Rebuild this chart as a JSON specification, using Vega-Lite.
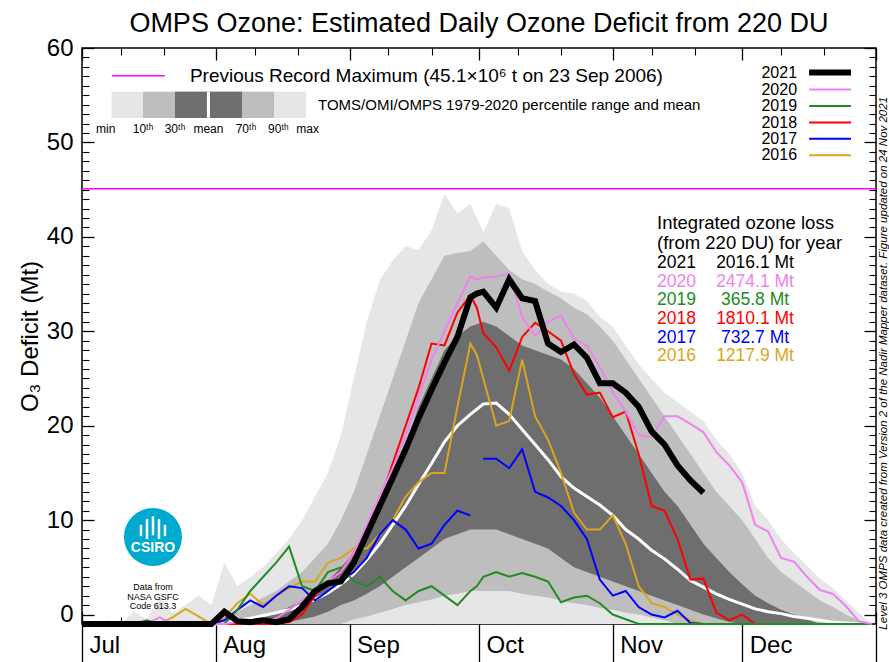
{
"$schema": "https://vega.github.io/schema/vega-lite/v6.json",
"width": 794, "height": 576,
"autosize": {"type": "none"},
"padding": {"left": 82, "top": 48, "right": 13, "bottom": 38},
"background": "white",
"title": {"text": "OMPS Ozone: Estimated Daily Ozone Deficit from 220 DU", "fontSize": 27, "fontWeight": "normal", "font": "Liberation Sans", "anchor": "middle", "offset": -2, "color": "black"},
"config": {"view": {"stroke": "black", "strokeWidth": 1.5}, "font": "Liberation Sans", "axis": {"domain": false, "grid": false, "tickColor": "black", "labelColor": "black", "labelFont": "Liberation Sans", "titleFont": "Liberation Sans", "titleColor": "black"}},
"datasets": {
"one": [{}],
"clim": [
{"d":0,"min":-1,"p10":-1,"p30":-1,"mean":-1,"p70":-1,"p90":-1,"max":-1},
{"d":3,"min":-1,"p10":-1,"p30":-1,"mean":-1,"p70":-1,"p90":-1,"max":-1},
{"d":6,"min":-1,"p10":-1,"p30":-1,"mean":-1,"p70":-1,"p90":-1,"max":-0.6},
{"d":9,"min":-1,"p10":-1,"p30":-1,"mean":-1,"p70":-1,"p90":-1,"max":-1},
{"d":12,"min":-1,"p10":-1,"p30":-1,"mean":-1,"p70":-1,"p90":-1,"max":0.3},
{"d":15,"min":-1,"p10":-1,"p30":-1,"mean":-1,"p70":-1,"p90":-1,"max":-0.5},
{"d":18,"min":-1,"p10":-1,"p30":-1,"mean":-1,"p70":-1,"p90":-1,"max":1.8},
{"d":21,"min":-1,"p10":-1,"p30":-1,"mean":-1,"p70":-1,"p90":-1,"max":0.2},
{"d":24,"min":-1,"p10":-1,"p30":-1,"mean":-1,"p70":-1,"p90":-1,"max":1.0},
{"d":27,"min":-1,"p10":-1,"p30":-1,"mean":-1,"p70":-1,"p90":-1,"max":2.0},
{"d":30,"min":-1,"p10":-1,"p30":-1,"mean":-1,"p70":-1,"p90":-0.8,"max":1.0},
{"d":33,"min":-1,"p10":-1,"p30":-1,"mean":-1,"p70":-1,"p90":-0.5,"max":5.5},
{"d":36,"min":-1,"p10":-1,"p30":-1,"mean":-0.6,"p70":-1,"p90":0.3,"max":3.0},
{"d":39,"min":-1,"p10":-1,"p30":-1,"mean":-0.4,"p70":-0.6,"p90":1.0,"max":4.0},
{"d":42,"min":-1,"p10":-1,"p30":-1,"mean":-0.1,"p70":-0.3,"p90":1.8,"max":5.0},
{"d":45,"min":-1,"p10":-1,"p30":-1,"mean":0.2,"p70":0.2,"p90":2.5,"max":6.5},
{"d":48,"min":-1,"p10":-1,"p30":-0.8,"mean":0.5,"p70":0.8,"p90":3.5,"max":8},
{"d":51,"min":-1,"p10":-1,"p30":-0.5,"mean":1.0,"p70":1.5,"p90":4.5,"max":10},
{"d":54,"min":-1,"p10":-1,"p30":-0.2,"mean":1.6,"p70":2.5,"p90":6,"max":12.5},
{"d":57,"min":-1,"p10":-1,"p30":0.3,"mean":2.3,"p70":3.5,"p90":7.5,"max":15},
{"d":60,"min":-1,"p10":-1,"p30":1,"mean":3.2,"p70":5,"p90":10,"max":19},
{"d":63,"min":-1,"p10":-0.5,"p30":1.5,"mean":4.3,"p70":6.5,"p90":13,"max":25},
{"d":66,"min":-1,"p10":-0.2,"p30":2.2,"mean":5.8,"p70":8.5,"p90":17,"max":31},
{"d":69,"min":-1,"p10":0.2,"p30":3,"mean":7.5,"p70":11,"p90":21,"max":35.4},
{"d":72,"min":-1,"p10":0.6,"p30":4,"mean":9.5,"p70":14,"p90":25,"max":37.5},
{"d":75,"min":-1,"p10":1,"p30":5,"mean":11.5,"p70":18,"p90":29,"max":39},
{"d":78,"min":-1,"p10":1.3,"p30":6,"mean":13.8,"p70":22,"p90":33,"max":38.6},
{"d":81,"min":-1,"p10":1.6,"p30":7,"mean":16,"p70":25,"p90":35.5,"max":40.7},
{"d":84,"min":-1,"p10":2,"p30":8,"mean":18.3,"p70":28,"p90":38,"max":44.5},
{"d":87,"min":-1,"p10":2.2,"p30":8.5,"mean":20,"p70":29.5,"p90":38.3,"max":42.5},
{"d":90,"min":-1,"p10":2.5,"p30":9,"mean":21.2,"p70":30.5,"p90":38.5,"max":43.5},
{"d":93,"min":-1,"p10":2.5,"p30":9,"mean":22.3,"p70":31,"p90":39.5,"max":40.5},
{"d":96,"min":-1,"p10":2.5,"p30":9,"mean":22.4,"p70":30.5,"p90":38,"max":43.5},
{"d":99,"min":-1,"p10":2.5,"p30":8.5,"mean":21.2,"p70":29.5,"p90":36.5,"max":43},
{"d":102,"min":-1,"p10":2.2,"p30":8,"mean":19.6,"p70":28.5,"p90":35.5,"max":38.5},
{"d":105,"min":-1,"p10":2,"p30":7.5,"mean":18,"p70":28,"p90":35,"max":36.5},
{"d":108,"min":-1,"p10":1.8,"p30":7,"mean":16.4,"p70":27.5,"p90":34.2,"max":35},
{"d":111,"min":-1,"p10":1.5,"p30":6,"mean":14.6,"p70":27,"p90":33.5,"max":34.2},
{"d":114,"min":-1,"p10":1.2,"p30":5,"mean":13.4,"p70":26,"p90":32.5,"max":34},
{"d":117,"min":-1,"p10":1,"p30":4.5,"mean":12.5,"p70":24.5,"p90":31.8,"max":33.2},
{"d":120,"min":-1,"p10":0.7,"p30":4,"mean":11.6,"p70":23,"p90":30.5,"max":31.5},
{"d":123,"min":-1,"p10":0.5,"p30":3.5,"mean":10.5,"p70":21,"p90":29,"max":30.5},
{"d":126,"min":-1,"p10":0.2,"p30":3,"mean":9,"p70":19,"p90":27,"max":28.5},
{"d":129,"min":-1,"p10":0,"p30":2.5,"mean":8,"p70":17,"p90":25,"max":26.5},
{"d":132,"min":-1,"p10":-0.3,"p30":2,"mean":6.8,"p70":15,"p90":23,"max":25},
{"d":135,"min":-1,"p10":-0.6,"p30":1.5,"mean":5.9,"p70":13,"p90":21,"max":23.5},
{"d":138,"min":-1,"p10":-1,"p30":1,"mean":4.8,"p70":11.5,"p90":19,"max":22.5},
{"d":141,"min":-1,"p10":-1,"p30":0.5,"mean":3.6,"p70":9.5,"p90":17,"max":21.5},
{"d":144,"min":-1,"p10":-1,"p30":0,"mean":2.9,"p70":7.5,"p90":15,"max":20.5},
{"d":147,"min":-1,"p10":-1,"p30":-0.4,"mean":2.2,"p70":6,"p90":13,"max":18.5},
{"d":150,"min":-1,"p10":-1,"p30":-0.8,"mean":1.6,"p70":4.5,"p90":11.5,"max":17},
{"d":153,"min":-1,"p10":-1,"p30":-1,"mean":1.1,"p70":3.2,"p90":10,"max":15},
{"d":156,"min":-1,"p10":-1,"p30":-1,"mean":0.6,"p70":2,"p90":8,"max":11.5},
{"d":159,"min":-1,"p10":-1,"p30":-1,"mean":0.3,"p70":1.2,"p90":6,"max":10},
{"d":162,"min":-1,"p10":-1,"p30":-1,"mean":0.1,"p70":0.5,"p90":4.5,"max":8},
{"d":165,"min":-1,"p10":-1,"p30":-1,"mean":-0.2,"p70":0,"p90":3.5,"max":6.5},
{"d":168,"min":-1,"p10":-1,"p30":-1,"mean":-0.4,"p70":-0.5,"p90":2.5,"max":5.2},
{"d":171,"min":-1,"p10":-1,"p30":-1,"mean":-0.6,"p70":-1,"p90":1.5,"max":3.8},
{"d":174,"min":-1,"p10":-1,"p30":-1,"mean":-0.8,"p70":-1,"p90":0.8,"max":2.8},
{"d":177,"min":-1,"p10":-1,"p30":-1,"mean":-0.9,"p70":-1,"p90":0,"max":1.5},
{"d":180,"min":-1,"p10":-1,"p30":-1,"mean":-1,"p70":-1,"p90":-0.6,"max":0.2},
{"d":183,"min":-1,"p10":-1,"p30":-1,"mean":-1,"p70":-1,"p90":-1,"max":-1}
],
"yrs": [
{"d":0,"y2016":-1,"y2017":-1,"y2018":-1,"y2019":-1,"y2020":-1,"y2021":-1},
{"d":3,"y2016":-1,"y2017":-1,"y2018":-1,"y2019":-1,"y2020":-1,"y2021":-1},
{"d":6,"y2016":-1,"y2017":-1,"y2018":-1,"y2019":-1,"y2020":-1,"y2021":-1},
{"d":9,"y2016":-1,"y2017":-1,"y2018":-1,"y2019":-1,"y2020":-1,"y2021":-1},
{"d":12,"y2016":-1,"y2017":-1,"y2018":-1,"y2019":-1,"y2020":-1,"y2021":-1},
{"d":15,"y2016":-1,"y2017":-1,"y2018":-1,"y2019":-0.6,"y2020":-1,"y2021":-1},
{"d":18,"y2016":-1,"y2017":-1,"y2018":-1,"y2019":-1,"y2020":-0.3,"y2021":-1},
{"d":21,"y2016":-0.3,"y2017":-1,"y2018":-1,"y2019":-1,"y2020":-1,"y2021":-1},
{"d":24,"y2016":0.6,"y2017":-1,"y2018":-1,"y2019":-1,"y2020":-1,"y2021":-1},
{"d":27,"y2016":-0.2,"y2017":-1,"y2018":-1,"y2019":-1,"y2020":-1,"y2021":-1},
{"d":30,"y2016":-1,"y2017":-1,"y2018":-1,"y2019":-1,"y2020":-1,"y2021":-1},
{"d":33,"y2016":-0.3,"y2017":-0.6,"y2018":-1,"y2019":-1,"y2020":-1,"y2021":0.3},
{"d":36,"y2016":1.2,"y2017":0.5,"y2018":-1,"y2019":0.5,"y2020":-0.8,"y2021":-0.7},
{"d":39,"y2016":2.2,"y2017":1.5,"y2018":-1,"y2019":2.5,"y2020":-0.6,"y2021":-0.8},
{"d":42,"y2016":1.0,"y2017":0.8,"y2018":-1,"y2019":4.0,"y2020":-0.8,"y2021":-0.6},
{"d":45,"y2016":2.0,"y2017":2.0,"y2018":-1,"y2019":5.5,"y2020":-0.4,"y2021":-0.8},
{"d":48,"y2016":2.8,"y2017":3.0,"y2018":-0.8,"y2019":7.2,"y2020":0.5,"y2021":-0.5},
{"d":51,"y2016":3.5,"y2017":2.8,"y2018":0.0,"y2019":3.0,"y2020":1.5,"y2021":0.8},
{"d":54,"y2016":3.5,"y2017":1.5,"y2018":2.0,"y2019":2.5,"y2020":2.5,"y2021":2.5},
{"d":57,"y2016":5.5,"y2017":2.5,"y2018":3.5,"y2019":4.5,"y2020":3.5,"y2021":3.3},
{"d":60,"y2016":6.0,"y2017":3.5,"y2018":4.5,"y2019":5.0,"y2020":4.5,"y2021":3.5},
{"d":63,"y2016":7.0,"y2017":4.5,"y2018":6.5,"y2019":3.5,"y2020":6.5,"y2021":5.5},
{"d":66,"y2016":7.0,"y2017":6.0,"y2018":9.0,"y2019":3.0,"y2020":9.5,"y2021":8.5},
{"d":69,"y2016":8.5,"y2017":8.5,"y2018":12.0,"y2019":4.0,"y2020":12.5,"y2021":11.5},
{"d":72,"y2016":10.0,"y2017":10.0,"y2018":16.0,"y2019":2.5,"y2020":15.5,"y2021":14.5},
{"d":75,"y2016":12.5,"y2017":9.0,"y2018":20.0,"y2019":1.5,"y2020":19.0,"y2021":17.5},
{"d":78,"y2016":14.0,"y2017":7.0,"y2018":24.0,"y2019":2.5,"y2020":23.0,"y2021":20.8},
{"d":81,"y2016":15.0,"y2017":7.5,"y2018":28.7,"y2019":3.0,"y2020":27.0,"y2021":23.8},
{"d":84,"y2016":15.0,"y2017":9.5,"y2018":28.5,"y2019":2.0,"y2020":30.0,"y2021":26.7},
{"d":87,"y2016":22.0,"y2017":11.0,"y2018":32.0,"y2019":1.0,"y2020":33.0,"y2021":29.4},
{"d":90,"y2016":28.7,"y2017":10.5,"y2018":33.8,"y2019":2.5,"y2020":35.8,"y2021":33.6},
{"d":91.5,"y2016":27.5,"y2017":null,"y2018":32.5,"y2019":3.0,"y2020":35.5,"y2021":34.0},
{"d":93,"y2016":25.0,"y2017":16.5,"y2018":29.8,"y2019":4.0,"y2020":35.7,"y2021":34.2},
{"d":96,"y2016":20.0,"y2017":16.5,"y2018":28.3,"y2019":4.5,"y2020":35.8,"y2021":32.5},
{"d":99,"y2016":20.5,"y2017":15.5,"y2018":25.8,"y2019":4.0,"y2020":36.1,"y2021":35.5},
{"d":102,"y2016":27.0,"y2017":17.5,"y2018":29.4,"y2019":4.4,"y2020":31.5,"y2021":33.5},
{"d":105,"y2016":21.0,"y2017":13.0,"y2018":30.9,"y2019":4.0,"y2020":29.5,"y2021":33.2},
{"d":108,"y2016":18.5,"y2017":12.4,"y2018":30.0,"y2019":3.5,"y2020":31.0,"y2021":28.7},
{"d":111,"y2016":15.0,"y2017":11.5,"y2018":29.0,"y2019":1.3,"y2020":31.7,"y2021":27.8},
{"d":114,"y2016":10.8,"y2017":10.0,"y2018":25.5,"y2019":1.8,"y2020":29.2,"y2021":28.6},
{"d":117,"y2016":9.0,"y2017":8.0,"y2018":23.3,"y2019":2.0,"y2020":28.5,"y2021":27.2},
{"d":120,"y2016":9.0,"y2017":3.7,"y2018":23.5,"y2019":1.2,"y2020":26.2,"y2021":24.5},
{"d":123,"y2016":10.5,"y2017":2.0,"y2018":20.9,"y2019":0.0,"y2020":23.5,"y2021":24.5},
{"d":126,"y2016":7.5,"y2017":2.5,"y2018":21.5,"y2019":-0.5,"y2020":21.5,"y2021":23.5},
{"d":129,"y2016":3.0,"y2017":0.8,"y2018":17.0,"y2019":-1,"y2020":19.0,"y2021":22.0},
{"d":132,"y2016":1.2,"y2017":0.0,"y2018":11.5,"y2019":-1,"y2020":18.8,"y2021":19.4},
{"d":135,"y2016":0.8,"y2017":-0.3,"y2018":11.0,"y2019":-1,"y2020":21.0,"y2021":18.0},
{"d":138,"y2016":0.0,"y2017":0.4,"y2018":8.0,"y2019":-1,"y2020":21.0,"y2021":15.8},
{"d":141,"y2016":-0.6,"y2017":-0.9,"y2018":3.7,"y2019":-1,"y2020":20.2,"y2021":14.2},
{"d":144,"y2016":-1,"y2017":-1,"y2018":3.8,"y2019":-1,"y2020":19.3,"y2021":12.9},
{"d":147,"y2016":-1,"y2017":-1,"y2018":0.2,"y2019":-1,"y2020":17.2,"y2021":null},
{"d":150,"y2016":-1,"y2017":-1,"y2018":-0.6,"y2019":-1,"y2020":15.8,"y2021":null},
{"d":153,"y2016":-1,"y2017":-1,"y2018":0.0,"y2019":-1,"y2020":14.0,"y2021":null},
{"d":156,"y2016":-1,"y2017":-1,"y2018":-1,"y2019":-1,"y2020":9.5,"y2021":null},
{"d":159,"y2016":-1,"y2017":-1,"y2018":-1,"y2019":-1,"y2020":8.8,"y2021":null},
{"d":162,"y2016":-1,"y2017":-1,"y2018":-1,"y2019":-1,"y2020":6.0,"y2021":null},
{"d":165,"y2016":-1,"y2017":-1,"y2018":-1,"y2019":-1,"y2020":5.6,"y2021":null},
{"d":168,"y2016":-1,"y2017":-1,"y2018":-1,"y2019":-1,"y2020":4.0,"y2021":null},
{"d":171,"y2016":-1,"y2017":-1,"y2018":-1,"y2019":-1,"y2020":2.6,"y2021":null},
{"d":174,"y2016":-1,"y2017":-1,"y2018":-1,"y2019":-1,"y2020":2.2,"y2021":null},
{"d":177,"y2016":-1,"y2017":-1,"y2018":-1,"y2019":-1,"y2020":0.9,"y2021":null},
{"d":180,"y2016":-1,"y2017":-1,"y2018":-1,"y2019":-1,"y2020":-0.7,"y2021":null},
{"d":183,"y2016":-1,"y2017":-1,"y2018":-1,"y2019":-1,"y2020":-1,"y2021":null}
]
},
"data": {"name": "one"},
"layer": [
{
"layer": [
{"data": {"name": "clim"}, "mark": {"type": "area", "color": "#e6e6e6"},
 "encoding": {
  "x": {"field": "d", "type": "quantitative", "scale": {"domain": [0, 184], "nice": false, "zero": false},
   "axis": {"orient": "bottom", "values": [0, 31, 62, 92, 123, 153, 184], "tickSize": 38, "tickWidth": 1.3, "labelExpr": "datum.value==0?'Jul':datum.value==31?'Aug':datum.value==62?'Sep':datum.value==92?'Oct':datum.value==123?'Nov':datum.value==153?'Dec':''", "labelAlign": "left", "labelOffset": 7, "labelBaseline": "middle", "labelPadding": -17, "labelFontSize": 24, "labelFlush": false, "labelOverlap": false, "title": null}},
  "y": {"field": "min", "type": "quantitative", "scale": {"domain": [-1, 60], "nice": false, "zero": false},
   "axis": {"orient": "left", "values": [0, 10, 20, 30, 40, 50, 60], "tickSize": -12, "tickWidth": 1.3, "labelPadding": 21, "labelFontSize": 24, "labelFlush": false, "labelOverlap": false, "title": "O₃ Deficit (Mt)", "titleFontSize": 24, "titleFontWeight": "normal", "titlePadding": 4}},
  "y2": {"field": "max"}}},
{"data": {"name": "clim"}, "mark": {"type": "area", "color": "#bebebe"},
 "encoding": {"x": {"field": "d", "type": "quantitative"}, "y": {"field": "p10", "type": "quantitative"}, "y2": {"field": "p90"}}},
{"data": {"name": "clim"}, "mark": {"type": "area", "color": "#6e6e6e"},
 "encoding": {"x": {"field": "d", "type": "quantitative"}, "y": {"field": "p30", "type": "quantitative"}, "y2": {"field": "p70"}}},
{"data": {"name": "clim"}, "mark": {"type": "line", "color": "white", "strokeWidth": 3},
 "encoding": {"x": {"field": "d", "type": "quantitative"}, "y": {"field": "mean", "type": "quantitative"}}},
{"mark": {"type": "rule", "color": "#ff00ff", "strokeWidth": 1.5}, "encoding": {"y": {"datum": 45.1, "type": "quantitative"}}},
{"data": {"name": "yrs"}, "mark": {"type": "line", "color": "#daa520", "strokeWidth": 2}, "encoding": {"x": {"field": "d", "type": "quantitative"}, "y": {"field": "y2016", "type": "quantitative"}}},
{"data": {"name": "yrs"}, "mark": {"type": "line", "color": "#0000ff", "strokeWidth": 2, "invalid": "break-paths-filter-domains"}, "encoding": {"x": {"field": "d", "type": "quantitative"}, "y": {"field": "y2017", "type": "quantitative"}}},
{"data": {"name": "yrs"}, "mark": {"type": "line", "color": "#ff0000", "strokeWidth": 2}, "encoding": {"x": {"field": "d", "type": "quantitative"}, "y": {"field": "y2018", "type": "quantitative"}}},
{"data": {"name": "yrs"}, "mark": {"type": "line", "color": "#228b22", "strokeWidth": 2}, "encoding": {"x": {"field": "d", "type": "quantitative"}, "y": {"field": "y2019", "type": "quantitative"}}},
{"data": {"name": "yrs"}, "mark": {"type": "line", "color": "#ee82ee", "strokeWidth": 2}, "encoding": {"x": {"field": "d", "type": "quantitative"}, "y": {"field": "y2020", "type": "quantitative"}}},
{"data": {"name": "yrs"}, "mark": {"type": "line", "color": "black", "strokeWidth": 6}, "encoding": {"x": {"field": "d", "type": "quantitative"}, "y": {"field": "y2021", "type": "quantitative"}}},

{"mark": {"type": "rule", "color": "#ff00ff", "strokeWidth": 1.5}, "encoding": {"x": {"datum": 6.95, "type": "quantitative"}, "x2": {"datum": 19.2}, "y": {"datum": 57.05, "type": "quantitative"}}},
{"mark": {"type": "text", "text": "Previous Record Maximum (45.1×10⁶  t on 23 Sep 2006)", "align": "left", "baseline": "middle", "fontSize": 19, "color": "black"}, "encoding": {"x": {"datum": 25.0, "type": "quantitative"}, "y": {"datum": 57.05, "type": "quantitative"}}},
{"mark": {"type": "rect", "color": "#e6e6e6"}, "encoding": {"x": {"datum": 6.86, "type": "quantitative"}, "x2": {"datum": 51.9}, "y": {"datum": 52.6, "type": "quantitative"}, "y2": {"datum": 55.36}}},
{"mark": {"type": "rect", "color": "#bebebe"}, "encoding": {"x": {"datum": 14.14, "type": "quantitative"}, "x2": {"datum": 44.5}, "y": {"datum": 52.6, "type": "quantitative"}, "y2": {"datum": 55.36}}},
{"mark": {"type": "rect", "color": "#6e6e6e"}, "encoding": {"x": {"datum": 21.55, "type": "quantitative"}, "x2": {"datum": 37.08}, "y": {"datum": 52.6, "type": "quantitative"}, "y2": {"datum": 55.36}}},
{"mark": {"type": "rule", "color": "white", "strokeWidth": 3}, "encoding": {"x": {"datum": 29.3, "type": "quantitative"}, "y": {"datum": 52.6, "type": "quantitative"}, "y2": {"datum": 55.36}}},
{"mark": {"type": "text", "text": "min", "align": "center", "baseline": "middle", "fontSize": 12, "color": "black"}, "encoding": {"x": {"datum": 5.5, "type": "quantitative"}, "y": {"datum": 51.4, "type": "quantitative"}}},
{"mark": {"type": "text", "text": "10ᵗʰ", "align": "center", "baseline": "middle", "fontSize": 12, "color": "black"}, "encoding": {"x": {"datum": 14.14, "type": "quantitative"}, "y": {"datum": 51.4, "type": "quantitative"}}},
{"mark": {"type": "text", "text": "30ᵗʰ", "align": "center", "baseline": "middle", "fontSize": 12, "color": "black"}, "encoding": {"x": {"datum": 21.55, "type": "quantitative"}, "y": {"datum": 51.4, "type": "quantitative"}}},
{"mark": {"type": "text", "text": "mean", "align": "center", "baseline": "middle", "fontSize": 12, "color": "black"}, "encoding": {"x": {"datum": 29.3, "type": "quantitative"}, "y": {"datum": 51.4, "type": "quantitative"}}},
{"mark": {"type": "text", "text": "70ᵗʰ", "align": "center", "baseline": "middle", "fontSize": 12, "color": "black"}, "encoding": {"x": {"datum": 38.0, "type": "quantitative"}, "y": {"datum": 51.4, "type": "quantitative"}}},
{"mark": {"type": "text", "text": "90ᵗʰ", "align": "center", "baseline": "middle", "fontSize": 12, "color": "black"}, "encoding": {"x": {"datum": 45.5, "type": "quantitative"}, "y": {"datum": 51.4, "type": "quantitative"}}},
{"mark": {"type": "text", "text": "max", "align": "center", "baseline": "middle", "fontSize": 12, "color": "black"}, "encoding": {"x": {"datum": 52.3, "type": "quantitative"}, "y": {"datum": 51.4, "type": "quantitative"}}},
{"mark": {"type": "text", "text": "TOMS/OMI/OMPS 1979-2020 percentile range and mean", "align": "left", "baseline": "middle", "fontSize": 15, "color": "black"}, "encoding": {"x": {"datum": 54.7, "type": "quantitative"}, "y": {"datum": 54.0, "type": "quantitative"}}},

{"mark": {"type": "text", "text": "2021", "align": "right", "baseline": "middle", "fontSize": 16, "color": "black"}, "encoding": {"x": {"datum": 165.7, "type": "quantitative"}, "y": {"datum": 57.4, "type": "quantitative"}}},
{"mark": {"type": "text", "text": "2020", "align": "right", "baseline": "middle", "fontSize": 16, "color": "black"}, "encoding": {"x": {"datum": 165.7, "type": "quantitative"}, "y": {"datum": 55.6, "type": "quantitative"}}},
{"mark": {"type": "text", "text": "2019", "align": "right", "baseline": "middle", "fontSize": 16, "color": "black"}, "encoding": {"x": {"datum": 165.7, "type": "quantitative"}, "y": {"datum": 53.85, "type": "quantitative"}}},
{"mark": {"type": "text", "text": "2018", "align": "right", "baseline": "middle", "fontSize": 16, "color": "black"}, "encoding": {"x": {"datum": 165.7, "type": "quantitative"}, "y": {"datum": 52.1, "type": "quantitative"}}},
{"mark": {"type": "text", "text": "2017", "align": "right", "baseline": "middle", "fontSize": 16, "color": "black"}, "encoding": {"x": {"datum": 165.7, "type": "quantitative"}, "y": {"datum": 50.4, "type": "quantitative"}}},
{"mark": {"type": "text", "text": "2016", "align": "right", "baseline": "middle", "fontSize": 16, "color": "black"}, "encoding": {"x": {"datum": 165.7, "type": "quantitative"}, "y": {"datum": 48.65, "type": "quantitative"}}},
{"mark": {"type": "rule", "color": "black", "strokeWidth": 6}, "encoding": {"x": {"datum": 168.5, "type": "quantitative"}, "x2": {"datum": 178.2}, "y": {"datum": 57.4, "type": "quantitative"}}},
{"mark": {"type": "rule", "color": "#ee82ee", "strokeWidth": 2}, "encoding": {"x": {"datum": 168.5, "type": "quantitative"}, "x2": {"datum": 178.2}, "y": {"datum": 55.6, "type": "quantitative"}}},
{"mark": {"type": "rule", "color": "#228b22", "strokeWidth": 2}, "encoding": {"x": {"datum": 168.5, "type": "quantitative"}, "x2": {"datum": 178.2}, "y": {"datum": 53.85, "type": "quantitative"}}},
{"mark": {"type": "rule", "color": "#ff0000", "strokeWidth": 2}, "encoding": {"x": {"datum": 168.5, "type": "quantitative"}, "x2": {"datum": 178.2}, "y": {"datum": 52.1, "type": "quantitative"}}},
{"mark": {"type": "rule", "color": "#0000ff", "strokeWidth": 2}, "encoding": {"x": {"datum": 168.5, "type": "quantitative"}, "x2": {"datum": 178.2}, "y": {"datum": 50.4, "type": "quantitative"}}},
{"mark": {"type": "rule", "color": "#daa520", "strokeWidth": 2}, "encoding": {"x": {"datum": 168.5, "type": "quantitative"}, "x2": {"datum": 178.2}, "y": {"datum": 48.65, "type": "quantitative"}}},

{"mark": {"type": "text", "text": "Integrated ozone loss", "align": "left", "baseline": "middle", "fontSize": 18.5, "color": "black"}, "encoding": {"x": {"datum": 133.25, "type": "quantitative"}, "y": {"datum": 41.5, "type": "quantitative"}}},
{"mark": {"type": "text", "text": "(from 220 DU) for year", "align": "left", "baseline": "middle", "fontSize": 18.5, "color": "black"}, "encoding": {"x": {"datum": 133.25, "type": "quantitative"}, "y": {"datum": 39.35, "type": "quantitative"}}},
{"mark": {"type": "text", "text": "2021", "align": "left", "baseline": "middle", "fontSize": 17.5, "color": "black"}, "encoding": {"x": {"datum": 133.25, "type": "quantitative"}, "y": {"datum": 37.28, "type": "quantitative"}}},
{"mark": {"type": "text", "text": "2020", "align": "left", "baseline": "middle", "fontSize": 17.5, "color": "#ee82ee"}, "encoding": {"x": {"datum": 133.25, "type": "quantitative"}, "y": {"datum": 35.26, "type": "quantitative"}}},
{"mark": {"type": "text", "text": "2019", "align": "left", "baseline": "middle", "fontSize": 17.5, "color": "#228b22"}, "encoding": {"x": {"datum": 133.25, "type": "quantitative"}, "y": {"datum": 33.28, "type": "quantitative"}}},
{"mark": {"type": "text", "text": "2018", "align": "left", "baseline": "middle", "fontSize": 17.5, "color": "#ff0000"}, "encoding": {"x": {"datum": 133.25, "type": "quantitative"}, "y": {"datum": 31.3, "type": "quantitative"}}},
{"mark": {"type": "text", "text": "2017", "align": "left", "baseline": "middle", "fontSize": 17.5, "color": "#0000ff"}, "encoding": {"x": {"datum": 133.25, "type": "quantitative"}, "y": {"datum": 29.32, "type": "quantitative"}}},
{"mark": {"type": "text", "text": "2016", "align": "left", "baseline": "middle", "fontSize": 17.5, "color": "#daa520"}, "encoding": {"x": {"datum": 133.25, "type": "quantitative"}, "y": {"datum": 27.34, "type": "quantitative"}}},
{"mark": {"type": "text", "text": "2016.1 Mt", "align": "center", "baseline": "middle", "fontSize": 17.5, "color": "black"}, "encoding": {"x": {"datum": 155.97, "type": "quantitative"}, "y": {"datum": 37.28, "type": "quantitative"}}},
{"mark": {"type": "text", "text": "2474.1 Mt", "align": "center", "baseline": "middle", "fontSize": 17.5, "color": "#ee82ee"}, "encoding": {"x": {"datum": 155.97, "type": "quantitative"}, "y": {"datum": 35.26, "type": "quantitative"}}},
{"mark": {"type": "text", "text": "365.8 Mt", "align": "center", "baseline": "middle", "fontSize": 17.5, "color": "#228b22"}, "encoding": {"x": {"datum": 155.97, "type": "quantitative"}, "y": {"datum": 33.28, "type": "quantitative"}}},
{"mark": {"type": "text", "text": "1810.1 Mt", "align": "center", "baseline": "middle", "fontSize": 17.5, "color": "#ff0000"}, "encoding": {"x": {"datum": 155.97, "type": "quantitative"}, "y": {"datum": 31.3, "type": "quantitative"}}},
{"mark": {"type": "text", "text": "732.7 Mt", "align": "center", "baseline": "middle", "fontSize": 17.5, "color": "#0000ff"}, "encoding": {"x": {"datum": 155.97, "type": "quantitative"}, "y": {"datum": 29.32, "type": "quantitative"}}},
{"mark": {"type": "text", "text": "1217.9 Mt", "align": "center", "baseline": "middle", "fontSize": 17.5, "color": "#daa520"}, "encoding": {"x": {"datum": 155.97, "type": "quantitative"}, "y": {"datum": 27.34, "type": "quantitative"}}},

{"mark": {"type": "point", "shape": "circle", "filled": true, "color": "#00a9ce", "opacity": 1, "size": 3364}, "encoding": {"x": {"datum": 16.45, "type": "quantitative"}, "y": {"datum": 8.22, "type": "quantitative"}}},
{"mark": {"type": "text", "text": "CSIRO", "align": "center", "baseline": "middle", "fontSize": 14, "fontWeight": "bold", "color": "white"}, "encoding": {"x": {"datum": 16.45, "type": "quantitative"}, "y": {"datum": 7.0, "type": "quantitative"}}},
{"mark": {"type": "rule", "color": "white", "strokeWidth": 2.5}, "encoding": {"x": {"datum": 13.67, "type": "quantitative"}, "y": {"datum": 8.3, "type": "quantitative"}, "y2": {"datum": 9.5}}},
{"mark": {"type": "rule", "color": "white", "strokeWidth": 2.5}, "encoding": {"x": {"datum": 15.06, "type": "quantitative"}, "y": {"datum": 8.0, "type": "quantitative"}, "y2": {"datum": 10.1}}},
{"mark": {"type": "rule", "color": "white", "strokeWidth": 2.5}, "encoding": {"x": {"datum": 16.45, "type": "quantitative"}, "y": {"datum": 8.4, "type": "quantitative"}, "y2": {"datum": 10.4}}},
{"mark": {"type": "rule", "color": "white", "strokeWidth": 2.5}, "encoding": {"x": {"datum": 17.84, "type": "quantitative"}, "y": {"datum": 8.0, "type": "quantitative"}, "y2": {"datum": 10.1}}},
{"mark": {"type": "rule", "color": "white", "strokeWidth": 2.5}, "encoding": {"x": {"datum": 19.23, "type": "quantitative"}, "y": {"datum": 8.3, "type": "quantitative"}, "y2": {"datum": 9.5}}},
{"mark": {"type": "text", "text": ["Data from", "NASA GSFC", "Code 613.3"], "align": "center", "baseline": "middle", "fontSize": 9, "lineHeight": 9.6, "color": "black"}, "encoding": {"x": {"datum": 16.45, "type": "quantitative"}, "y": {"datum": 2.92, "type": "quantitative"}}},
{"mark": {"type": "text", "text": "Level 3 OMPS data created from Version 2 of the Nadir Mapper dataset. Figure updated on 24 Nov 2021", "align": "left", "baseline": "middle", "angle": 270, "fontSize": 11.5, "fontStyle": "italic", "color": "black"}, "encoding": {"x": {"datum": 185.9, "type": "quantitative"}, "y": {"datum": -1.6, "type": "quantitative"}}}
]
},
{"mark": {"type": "point", "opacity": 0}, "encoding": {
 "x": {"datum": 50, "type": "quantitative", "axis": {"orient": "top", "values": [0, 31, 62, 92, 123, 153, 184], "tickSize": -12, "tickWidth": 1.3, "labels": false, "title": null}},
 "y": {"datum": 10, "type": "quantitative", "axis": {"orient": "right", "values": [0, 10, 20, 30, 40, 50, 60], "tickSize": -12, "tickWidth": 1.3, "labels": false, "title": null}}}},
{"mark": {"type": "point", "opacity": 0}, "encoding": {
 "x": {"datum": 50, "type": "quantitative", "axis": {"orient": "top", "values": [9, 19, 40, 50, 71, 81, 101, 111, 132, 142, 162, 172], "tickSize": -7, "tickWidth": 1.1, "labels": false, "title": null}},
 "y": {"datum": 10, "type": "quantitative", "axis": {"orient": "right", "values": [1,2,3,4,5,6,7,8,9,11,12,13,14,15,16,17,18,19,21,22,23,24,25,26,27,28,29,31,32,33,34,35,36,37,38,39,41,42,43,44,45,46,47,48,49,51,52,53,54,55,56,57,58,59], "tickSize": -7, "tickWidth": 1.1, "labels": false, "title": null}}}},
{"mark": {"type": "point", "opacity": 0}, "encoding": {
 "x": {"datum": 50, "type": "quantitative", "axis": {"orient": "bottom", "values": [0, 31, 62, 92, 123, 153, 184], "tickSize": -12, "tickWidth": 1.3, "labels": false, "title": null}},
 "y": {"datum": 10, "type": "quantitative", "axis": {"orient": "left", "values": [1,2,3,4,5,6,7,8,9,11,12,13,14,15,16,17,18,19,21,22,23,24,25,26,27,28,29,31,32,33,34,35,36,37,38,39,41,42,43,44,45,46,47,48,49,51,52,53,54,55,56,57,58,59], "tickSize": -7, "tickWidth": 1.1, "labels": false, "title": null}}}},
{"mark": {"type": "point", "opacity": 0}, "encoding": {
 "x": {"datum": 50, "type": "quantitative", "axis": {"orient": "bottom", "values": [9, 19, 40, 50, 71, 81, 101, 111, 132, 142, 162, 172], "tickSize": -7, "tickWidth": 1.1, "labels": false, "title": null}},
 "y": {"datum": 10, "type": "quantitative", "axis": null}}}
],
"resolve": {"axis": {"x": "independent", "y": "independent"}}
}
